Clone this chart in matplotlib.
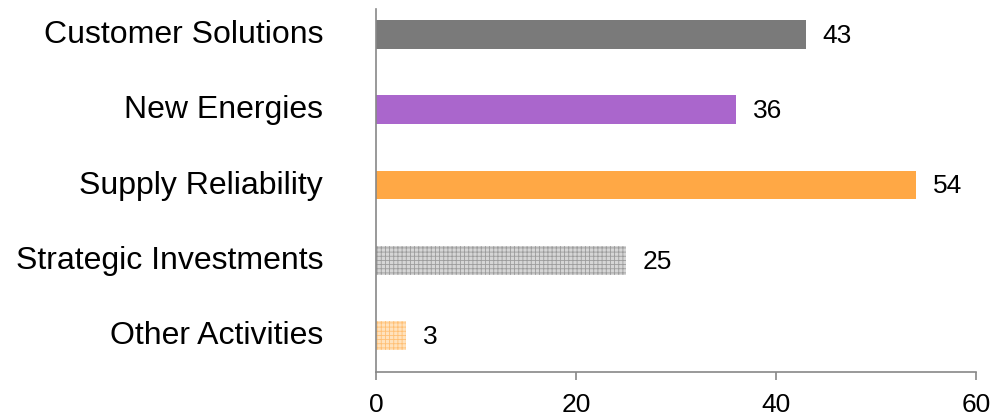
import matplotlib
matplotlib.use("Agg")
import matplotlib.pyplot as plt
import matplotlib.transforms as mtransforms

plt.rcParams['font.family'] = ['Liberation Sans', 'DejaVu Sans']
plt.rcParams['hatch.linewidth'] = 0.6

# data, top to bottom as in the chart
categories = ["Customer Solutions", "New Energies", "Supply Reliability",
              "Strategic Investments", "Other Activities"]
values = [43, 36, 54, 25, 3]
colors = ["#7a7a7a", "#aa66cc", "#ffa845", "#d6d6d6", "#ffe2bd"]
hatch_colors = ["#7a7a7a", "#aa66cc", "#ffa845", "#9c9c9c", "#ffbf73"]
hatches = [None, None, None, "++++", "++++"]
x_ticks = [0, 20, 40, 60]

fig = plt.figure(figsize=(9.94, 4.16), dpi=100)
ax = fig.add_axes([376 / 994, 1 - 372 / 416, 600 / 994, 363 / 416])

ypos = list(range(len(categories)))[::-1]
bars = ax.barh(ypos, values, height=0.385, color=colors, linewidth=0)
for b, h, hc in zip(bars, hatches, hatch_colors):
    if h:
        b.set_hatch(h)
        b.set_edgecolor(hc)

for y, v in zip(ypos, values):
    ax.annotate(str(v), (v, y), xytext=(12, -1), textcoords="offset points",
                ha="left", va="center", fontsize=19, color="black")

ax.set_xlim(0, 60)
ax.set_ylim(-0.485, 4.339)
ax.set_xticks(x_ticks)
ax.set_yticks(ypos)
ax.set_yticklabels(categories, fontsize=23)
ax.tick_params(axis="y", length=0, pad=38)
ax.tick_params(axis="x", length=6, width=1.2, color="#888888", pad=9, labelsize=19)

# category labels sit a little above the bar centres
shift = mtransforms.ScaledTranslation(0, 0.03, fig.dpi_scale_trans)
for lab in ax.get_yticklabels():
    lab.set_transform(lab.get_transform() + shift)

for s in ["top", "right"]:
    ax.spines[s].set_visible(False)
for s in ["left", "bottom"]:
    ax.spines[s].set_color("#888888")
    ax.spines[s].set_linewidth(1.2)

fig.savefig("out.png", dpi=100)
